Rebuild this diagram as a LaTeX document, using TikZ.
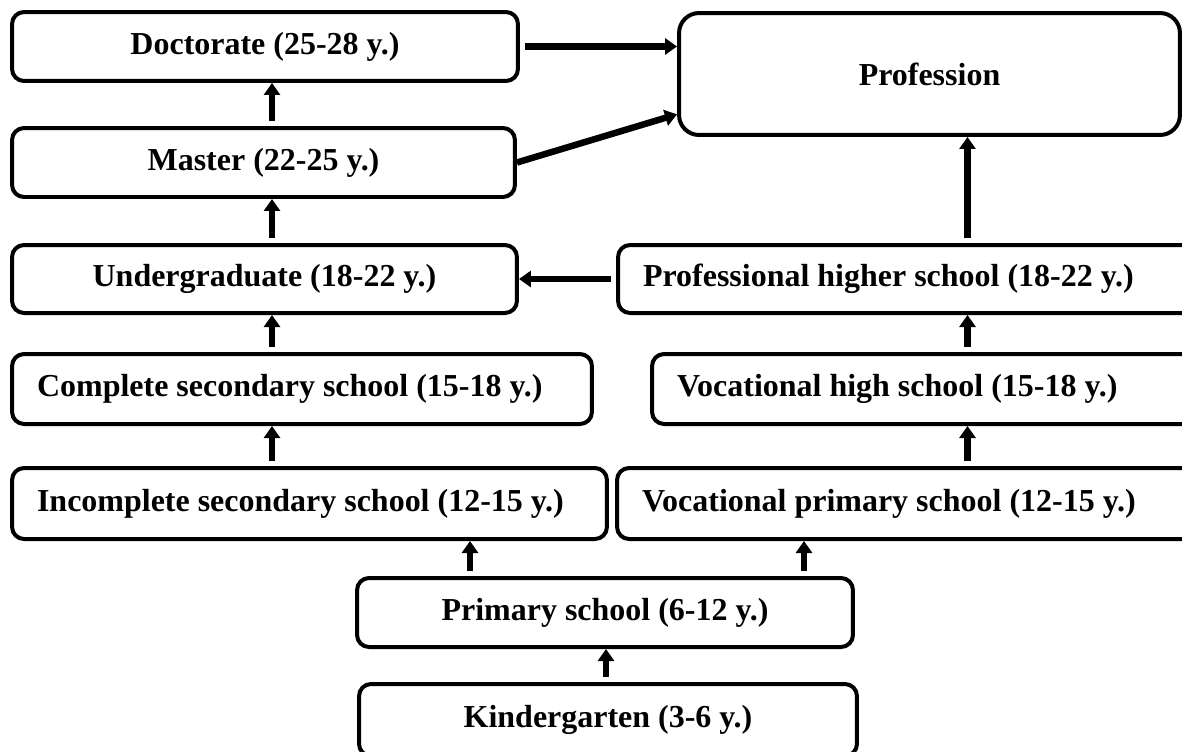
\documentclass[tikz,border=0pt]{standalone}
\usepackage{fontspec}
\setmainfont{Liberation Serif}
\usepackage{tikz}
\usetikzlibrary{arrows.meta,calc}

\begin{document}
\begin{tikzpicture}[x=0.02cm, y=-0.02cm,
  stage/.style={draw, line width=0.08cm, rounded corners=0.24cm, align=flush center,
    font=\fontsize{18.2}{22}\selectfont\bfseries, minimum height=1.38cm},
  wide/.style={align=flush left, inner xsep=0.5cm, text width=#1},
  flow/.style={line width=0.13cm, -{Triangle[length=0.24cm,width=0.32cm]}, shorten <=0.1cm}]

\clip (0,0) rectangle (1182,751);

\node[stage, minimum width=10.12cm] (doc) at (265,46.5) {Doctorate (25-28 y.)};
\node[stage, minimum width=10.02cm, minimum height=2.44cm, rounded corners=0.4cm] (prof) at (929.5,74) {Profession};
\node[stage, minimum width=10.06cm] (master) at (263.5,162.5) {Master (22-25 y.)};
\node[stage, minimum width=10.1cm, minimum height=1.36cm] (ugrad) at (264.5,279) {Undergraduate (18-22 y.)};
\node[stage, wide=10.64cm, minimum height=1.36cm] (phs) at (909,279) {Professional higher school (18-22 y.)};
\node[stage, wide=10.6cm, minimum height=1.4cm] (csec) at (302,389) {Complete secondary school (15-18 y.)};
\node[stage, wide=9.96cm, minimum height=1.4cm] (vhs) at (926,389) {Vocational high school (15-18 y.)};
\node[stage, wide=10.9cm, minimum height=1.42cm] (isec) at (309.5,503.5) {Incomplete secondary school (12-15 y.)};
\node[stage, wide=10.66cm, minimum height=1.42cm] (vps) at (908.5,503.5) {Vocational primary school (12-15 y.)};
\node[stage, minimum width=9.92cm] (prim) at (605,612.5) {Primary school (6-12 y.)};
\node[stage, minimum width=9.96cm, minimum height=1.44cm] (kind) at (608,720) {Kindergarten (3-6 y.)};

\coordinate (lc) at (272,0);
\coordinate (rc) at (967.5,0);
\coordinate (pl) at (470,0);
\coordinate (pr) at (804,0);
\coordinate (kc) at (606,0);

\draw[flow] (master.north -| lc) -- (doc.south -| lc);
\draw[flow] (ugrad.north -| lc) -- (master.south -| lc);
\draw[flow] (csec.north -| lc) -- (ugrad.south -| lc);
\draw[flow] (isec.north -| lc) -- (csec.south -| lc);
\draw[flow] (prim.north -| pl) -- (isec.south -| pl);
\draw[flow] (prim.north -| pr) -- (vps.south -| pr);
\draw[flow] (kind.north -| kc) -- (prim.south -| kc);
\draw[flow] (vps.north -| rc) -- (vhs.south -| rc);
\draw[flow] (vhs.north -| rc) -- (phs.south -| rc);
\draw[flow] (phs.north -| rc) -- (prof.south -| rc);
\draw[flow] (phs.west) -- (ugrad.east);
\draw[flow] (doc.east) -- (prof.west |- doc.east);
\draw[flow, shorten <=0cm] (master.east) -- ($(prof.south west)!0.18!(prof.north west)$);

\end{tikzpicture}
\end{document}
